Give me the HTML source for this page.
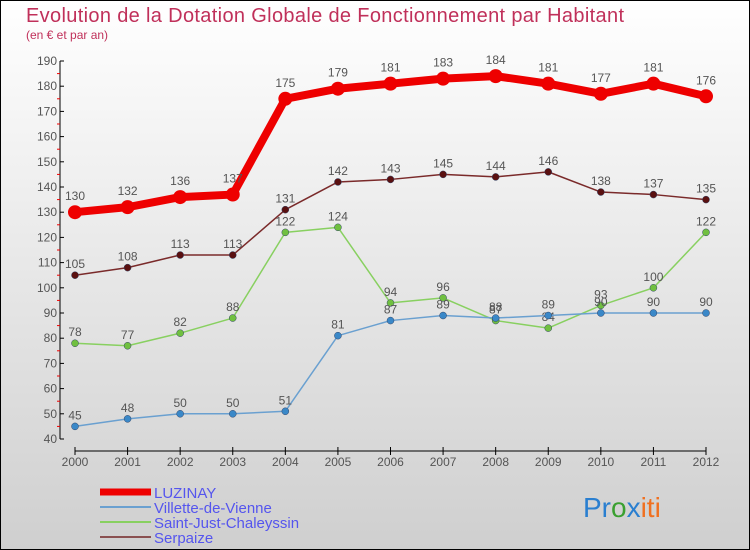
<!DOCTYPE html>
<html><head><meta charset="utf-8"><style>
html,body{margin:0;padding:0}
body{width:750px;height:550px;overflow:hidden}
svg{display:block}
text{font-family:"Liberation Sans",sans-serif}
</style></head><body>
<svg width="750" height="550" viewBox="0 0 750 550">
<defs><linearGradient id="bg" x1="0" y1="0" x2="0" y2="1"><stop offset="0" stop-color="#ffffff"/><stop offset="1" stop-color="#cfcfcf"/></linearGradient></defs>
<rect x="0.5" y="0.5" width="749" height="549" fill="url(#bg)" stroke="#000"/>
<text x="26" y="22" font-size="20" fill="#c0305a" textLength="598" lengthAdjust="spacing">Evolution de la Dotation Globale de Fonctionnement par Habitant</text>
<text x="26" y="39" font-size="12" fill="#c0305a">(en € et par an)</text>
<g id="axes"></g>
<g id="series"></g>
<g id="legend"></g>
<text x="583" y="517" font-size="28"><tspan fill="#2a7fd0">Pr</tspan><tspan fill="#3aa030">o</tspan><tspan fill="#2a7fd0">x</tspan><tspan fill="#f07020">iti</tspan></text>
</svg>
<script>
const years=[2000,2001,2002,2003,2004,2005,2006,2007,2008,2009,2010,2011,2012];
const yTicks=[40,50,60,70,80,90,100,110,120,130,140,150,160,170,180,190];
const luzinay=[130,132,136,137,175,179,181,183,184,181,177,181,176];
const villette=[45,48,50,50,51,81,87,89,88,89,90,90,90];
const saintJust=[78,77,82,88,122,124,94,96,87,84,93,100,122];
const serpaize=[105,108,113,113,131,142,143,145,144,146,138,137,135];
const NS='http://www.w3.org/2000/svg';
const x=i=>75+i*(706-75)/(years.length-1);
const y=v=>439-(v-40)*(378/150);
function mk(tag,attrs,parent){const e=document.createElementNS(NS,tag);for(const k in attrs)e.setAttribute(k,attrs[k]);parent.appendChild(e);return e;}
const ax=document.getElementById('axes');
let l=mk('line',{x1:60,y1:y(190),x2:60,y2:y(40),stroke:'#000'},ax);


yTicks.forEach(v=>{
 mk('line',{x1:60,y1:y(v),x2:64,y2:y(v),stroke:'#000'},ax);
 if(v<190) mk('line',{x1:57,y1:y(v+5),x2:60,y2:y(v+5),stroke:'#e00'},ax);
 const t=mk('text',{x:57,y:y(v)+4,'font-size':12,fill:'#555','text-anchor':'end'},ax);
 t.textContent=v;
 
 
});
l=mk('line',{x1:75,y1:451,x2:706,y2:451,stroke:'#000'},ax);


years.forEach((yr,i)=>{
 mk('line',{x1:x(i),y1:447,x2:x(i),y2:455,stroke:'#000'},ax);
 const t=mk('text',{x:x(i),y:466,'font-size':12,fill:'#555','text-anchor':'middle'},ax);
 t.textContent=yr;
 
 
});
const sg=document.getElementById('series');
const defs=[
 {d:serpaize,c:'#7a2a2a',dot:'#5a1010',w:1.5,r:3.5,n:'serpaize'},
 {d:saintJust,c:'#88d060',dot:'#70c040',w:1.5,r:3.5,n:'saint-just-chaleyssin'},
 {d:villette,c:'#6aa0d0',dot:'#3a88c8',w:1.5,r:3.5,n:'villette-de-vienne'},
 {d:luzinay,c:'#ee0000',dot:'#ee0000',w:8,r:7,n:'luzinay'}
];
defs.forEach(s=>{
 const g=mk('g',{},sg);
 
 
 const p=mk('polyline',{points:s.d.map((v,i)=>x(i)+','+y(v)).join(' '),fill:'none',stroke:s.c,'stroke-width':s.w,'stroke-linejoin':'round'},g);
 
 
 s.d.forEach((v,i)=>{
  const c=mk('circle',{cx:x(i),cy:y(v),r:s.r,fill:s.dot,stroke:s.r<5?'#346':'none','stroke-width':0.5},g);
  
  
  const t=mk('text',{x:x(i),y:y(v)-(s.r<5?7:12),'font-size':12,fill:'#555','text-anchor':'middle'},g);
  t.textContent=v;
  
  
 });
});
const lg=document.getElementById('legend');
[['LUZINAY','#ee0000',7],['Villette-de-Vienne','#6aa0d0',2],['Saint-Just-Chaleyssin','#88d060',2],['Serpaize','#8a5050',2]].forEach((e,i)=>{
 const yy=492+i*15;
 mk('line',{x1:100,y1:yy,x2:151,y2:yy,stroke:e[1],'stroke-width':e[2]},lg);
 const t=mk('text',{x:154,y:yy+6,'font-size':15,fill:'#5555ee'},lg);
 t.textContent=e[0];
 
 
});
</script>
</body></html>
